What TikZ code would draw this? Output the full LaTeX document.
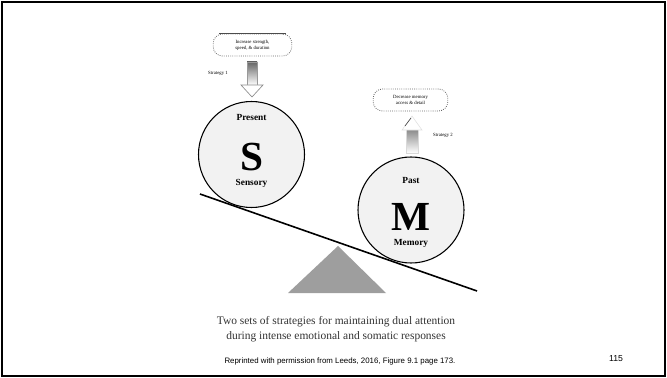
\documentclass[tikz,border=0pt]{standalone}
\usepackage{fontspec}
\setmainfont{Liberation Serif}
\newfontfamily\footfont{Liberation Sans}
\begin{document}
\begin{tikzpicture}[x=0.75pt,y=-0.75pt,
  stratbox/.style={draw=black!60, densely dotted, line width=0.6pt,
    rounded corners=7pt, fill=white, minimum height=16.5pt,
    align=center, inner sep=1pt, font=\fontsize{3.6}{4.3}\selectfont},
  pan/.style={circle, draw=black, line width=0.8pt, fill=black!5,
    minimum size=79.5pt, inner sep=0pt},
  panlabel/.style={font=\fontsize{7}{8}\selectfont\bfseries},
  bigletter/.style={font=\fontsize{31}{31}\selectfont\bfseries},
  tinylabel/.style={font=\fontsize{3.6}{4}\selectfont},
  headline/.style={draw=black!45, line width=0.5pt, fill=white}
]
\useasboundingbox (0,0) rectangle (667,378);
% slide frame
\draw[line width=1.3pt] (2,2) rectangle (665,376);

% strategy boxes
\node[stratbox, minimum width=59pt] (box1) at (252.5,45)
  {Increase strength,\\speed, \& duration};
\draw[black!70, line width=0.8pt] ([xshift=5pt]box1.north west) -- ([xshift=-5pt]box1.north east);
\node[stratbox, minimum width=56pt] (box2) at (410.5,100)
  {Decrease memory\\access \& detail};

\node[tinylabel] (lab1) at (218,73) {Strategy 1};
\node[tinylabel] (lab2) at (443,135) {Strategy 2};

% the two pans resting on the beam
\node[pan] (S) at (251.5,154.5) {};
\node[panlabel] at ([shift={(0,-37)}]S.center) {Present};
\node[bigletter] at ([shift={(0,3)}]S.center) {S};
\node[panlabel] at ([shift={(0,29)}]S.center) {Sensory};

\node[pan] (M) at (411,210) {};
\node[panlabel] at ([shift={(0,-30)}]M.center) {Past};
\node[bigletter] at ([shift={(0,7)}]M.center) {M};
\node[panlabel] at ([shift={(0,33)}]M.center) {Memory};

% block arrow from the first box down to the sensory pan
\coordinate (a1) at (252,62);
\shade[top color=black!60, bottom color=white]
  ([shift={(-5,0)}]a1) rectangle ([shift={(5,23)}]a1);
\draw[black!40, line width=0.4pt]
  ([shift={(-5,23)}]a1) -- ([shift={(-5,0)}]a1) -- ([shift={(5,0)}]a1) -- ([shift={(5,23)}]a1);
\draw[headline]
  ([shift={(11,23)}]a1) -- ([shift={(0,35)}]a1) -- ([shift={(-11,23)}]a1) -- cycle;

% block arrow from the memory pan up to the second box
\coordinate (a2) at (412,153);
\shade[top color=black!45, bottom color=white]
  ([shift={(-6,0)}]a2) rectangle ([shift={(6,-23)}]a2);
\draw[black!15, line width=0.4pt]
  ([shift={(-6,-23)}]a2) -- ([shift={(-6,0)}]a2) -- ([shift={(6,0)}]a2) -- ([shift={(6,-23)}]a2);
\draw[black!12, line width=0.4pt, fill=white]
  ([shift={(10,-23)}]a2) -- ([shift={(0,-37)}]a2) -- ([shift={(-10,-23)}]a2) -- cycle;
\draw[black!70, line width=0.5pt] (405,126) -- (411,118);

% fulcrum and beam
\coordinate (fTop) at (338,246);
\fill[black!38] (fTop) -- (386,293) -- (288,293) -- cycle;
\coordinate (beamL) at (200,194);
\coordinate (beamR) at (477,291);
\draw[line width=1.2pt] (beamL) -- (beamR);

% caption
\node[font=\fontsize{8.6}{11.3}\selectfont, text=black!80, align=center] (cap) at (336,329.5)
  {Two sets of strategies for maintaining dual attention\\during intense emotional and somatic responses};

% footer
\node[font=\footfont\fontsize{5.9}{6}\selectfont] (src) at (340,361)
  {Reprinted with permission from Leeds, 2016, Figure 9.1 page 173.};
\node[font=\footfont\fontsize{6.5}{7}\selectfont] (pg) at (616,359) {115};
\end{tikzpicture}
\end{document}
